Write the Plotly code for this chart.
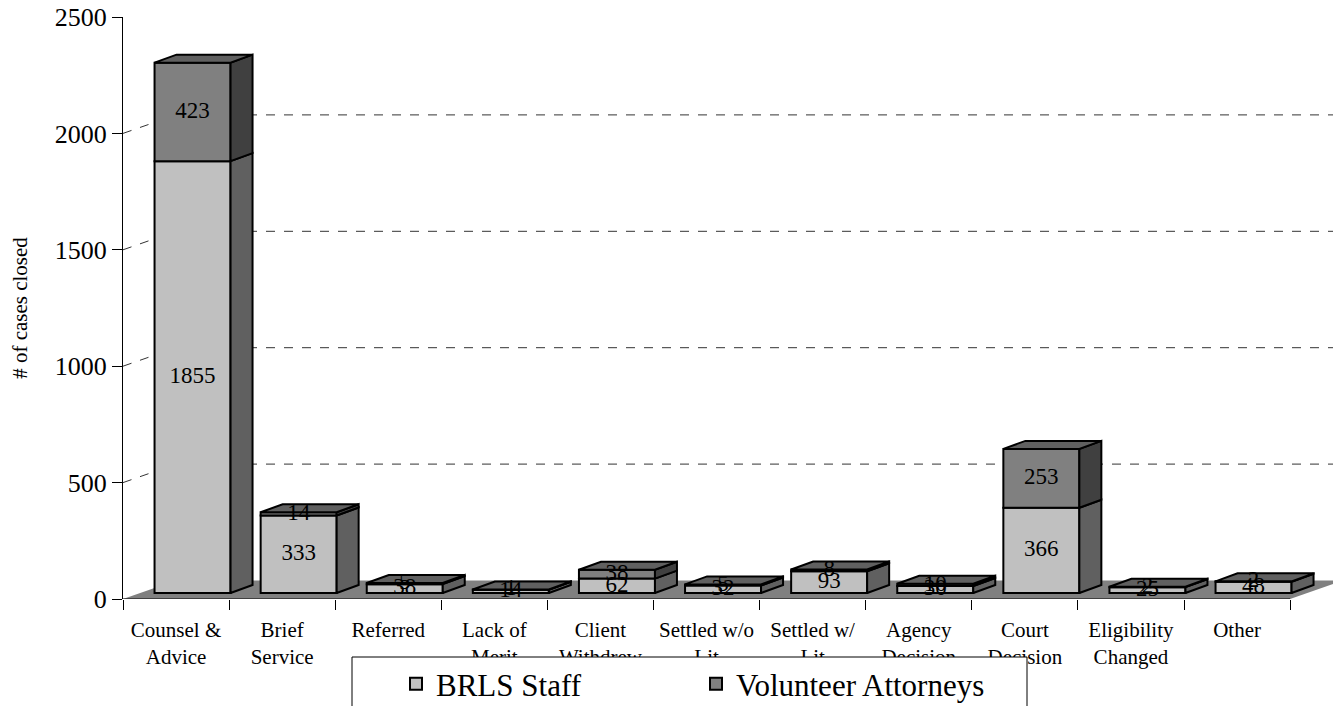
import plotly.graph_objects as go

# ---------------- data ----------------
categories = ["Counsel &<br>Advice", "Brief<br>Service", "Referred", "Lack of<br>Merit",
              "Client<br>Withdrew", "Settled w/o<br>Lit", "Settled w/<br>Lit",
              "Agency<br>Decision", "Court<br>Decision", "Eligibility<br>Changed", "Other"]
staff = [1855, 333, 38, 14, 62, 32, 93, 30, 366, 25, 48]
volunteer = [423, 14, 5, 1, 38, 5, 8, 10, 253, 2, 2]
y_ticks = [0, 500, 1000, 1500, 2000, 2500]
series_names = ["BRLS Staff", "Volunteer Attorneys"]

# ---------------- layout geometry (styles) ----------------
PAGE = 8  # default body margin of the html page
W, H = 1341 - PAGE, 706 - PAGE
ML, MR, MT, MB = 115, 0, 9, 107
plot_w = W - ML - MR
plot_h = H - MT - MB
n = len(categories)
y_max = 2500
x_max = plot_w / 106.1
ppx = plot_w / x_max
ppy = plot_h / y_max


def ux(px):
    return px / ppx


def uy(px):
    return px / ppy


FRONT = (16.5, 6.0)   # px shift of bar front plane
DEPTH = (22.0, 8.0)   # px bar depth
WALL = (53.0, 18.5)   # px depth of floor / back wall
BAR_W = 76.0          # px bar width

FONT = "Liberation Serif"
STAFF_FRONT, STAFF_SIDE = "#C0C0C0", "#606060"
VOL_FRONT, VOL_SIDE, VOL_TOP = "#808080", "#404040", "#606060"

fx, fy = ux(FRONT[0]), uy(FRONT[1])
ddx, ddy = ux(DEPTH[0]), uy(DEPTH[1])
wx, wy = ux(WALL[0]), uy(WALL[1])
bw = ux(BAR_W)

centers = [i + 0.5 + fx for i in range(n)]

fig = go.Figure()

# front faces (bars)
fig.add_trace(go.Bar(x=centers, y=staff, base=[fy] * n, width=bw, name=series_names[0],
                     marker=dict(color=STAFF_FRONT, line=dict(color="black", width=2)),
                     hoverinfo="skip"))
fig.add_trace(go.Bar(x=centers, y=volunteer, base=[fy + s for s in staff], width=bw,
                     name=series_names[1],
                     marker=dict(color=VOL_FRONT, line=dict(color="black", width=2)),
                     hoverinfo="skip"))


def side_poly(bottoms, heights):
    xs, ys = [], []
    for c, b, h in zip(centers, bottoms, heights):
        xr = c + bw / 2
        xs += [xr, xr, xr + ddx, xr + ddx, xr, None]
        ys += [b, b + h, b + h + ddy, b + ddy, b, None]
    return xs, ys


def top_poly(tops):
    xs, ys = [], []
    for c, t in zip(centers, tops):
        xl, xr = c - bw / 2, c + bw / 2
        xs += [xl, xr, xr + ddx, xl + ddx, xl, None]
        ys += [t, t, t + ddy, t + ddy, t, None]
    return xs, ys


sx, sy = side_poly([fy] * n, staff)
fig.add_trace(go.Scatter(x=sx, y=sy, mode="lines", fill="toself", fillcolor=STAFF_SIDE,
                         line=dict(color="black", width=2), showlegend=False, hoverinfo="skip"))
vx, vy = side_poly([fy + s for s in staff], volunteer)
fig.add_trace(go.Scatter(x=vx, y=vy, mode="lines", fill="toself", fillcolor=VOL_SIDE,
                         line=dict(color="black", width=2), showlegend=False, hoverinfo="skip"))
tx, ty = top_poly([fy + s + v for s, v in zip(staff, volunteer)])
fig.add_trace(go.Scatter(x=tx, y=ty, mode="lines", fill="toself", fillcolor=VOL_TOP,
                         line=dict(color="black", width=2), showlegend=False, hoverinfo="skip"))

# data labels
lab_x = centers + centers
lab_y = [fy + s / 2 for s in staff] + [fy + s + v / 2 for s, v in zip(staff, volunteer)]
lab_t = [str(s) for s in staff] + [str(v) for v in volunteer]
fig.add_trace(go.Scatter(x=lab_x, y=lab_y, mode="text", text=lab_t,
                         textfont=dict(family=FONT, size=23, color="black"),
                         textposition="middle center", showlegend=False, hoverinfo="skip"))

# ---------------- shapes: floor, gridlines, axis line ----------------
shapes = []
shapes.append(dict(type="path", xref="x", yref="y", layer="below",
                   path=f"M0,0 L{n},0 L{n + wx},{wy} L{wx},{wy} Z",
                   fillcolor="#808080", line=dict(width=0)))
for v in y_ticks[1:]:
    if v + wy > y_max:
        continue
    shapes.append(dict(type="line", xref="x", yref="y", layer="below",
                       x0=0, y0=v, x1=wx, y1=v + wy,
                       line=dict(color="#333333", width=1, dash="dash")))
    shapes.append(dict(type="line", xref="x", yref="y", layer="below",
                       x0=wx, y0=v + wy, x1=n + wx, y1=v + wy,
                       line=dict(color="#333333", width=1, dash="dash")))
shapes.append(dict(type="line", xref="x", yref="y", layer="below",
                   x0=0, y0=0, x1=n, y1=0, line=dict(color="black", width=1)))


def paper_x(px):
    return (px - PAGE - ML) / plot_w


def paper_y(py):
    return (H - MB - (py - PAGE)) / plot_h


# legend frame
shapes.append(dict(type="rect", xref="paper", yref="paper", layer="above",
                   x0=paper_x(352), x1=paper_x(1027), y0=paper_y(657), y1=paper_y(730),
                   fillcolor="white", line=dict(color="black", width=1)))

fig.update_layout(
    width=W, height=H,
    margin=dict(l=ML, r=MR, t=MT, b=MB, autoexpand=False),
    paper_bgcolor="white", plot_bgcolor="white",
    barmode="overlay",
    showlegend=True,
    legend=dict(orientation="h", x=paper_x(396), xanchor="left", y=paper_y(657), yanchor="top",
                bgcolor="rgba(0,0,0,0)", borderwidth=0, entrywidth=255,
                font=dict(family=FONT, size=31, color="black")),
    shapes=shapes,
    font=dict(family=FONT, color="black"),
    xaxis=dict(range=[0, x_max], tickmode="array", tickvals=[i + 0.5 for i in range(n)],
               ticktext=categories, ticks="", showline=False, showgrid=False, zeroline=False,
               tickfont=dict(family=FONT, size=21, color="black"), ticklabelstandoff=16,
               minor=dict(tickmode="array", tickvals=list(range(n + 1)), ticks="outside",
                          ticklen=10, tickcolor="black", showgrid=False),
               fixedrange=True),
    yaxis=dict(range=[0, y_max], tickmode="array", tickvals=y_ticks,
               ticks="outside", ticklen=10, tickcolor="black", showline=True, linecolor="black",
               linewidth=1, showgrid=False, zeroline=False, ticklabeloverflow="allow",
               tickfont=dict(family=FONT, size=26, color="black"),
               title=dict(text="# of cases closed", font=dict(family=FONT, size=21, color="black"),
                          standoff=22),
               fixedrange=True),
)

fig.write_html("out.html")
